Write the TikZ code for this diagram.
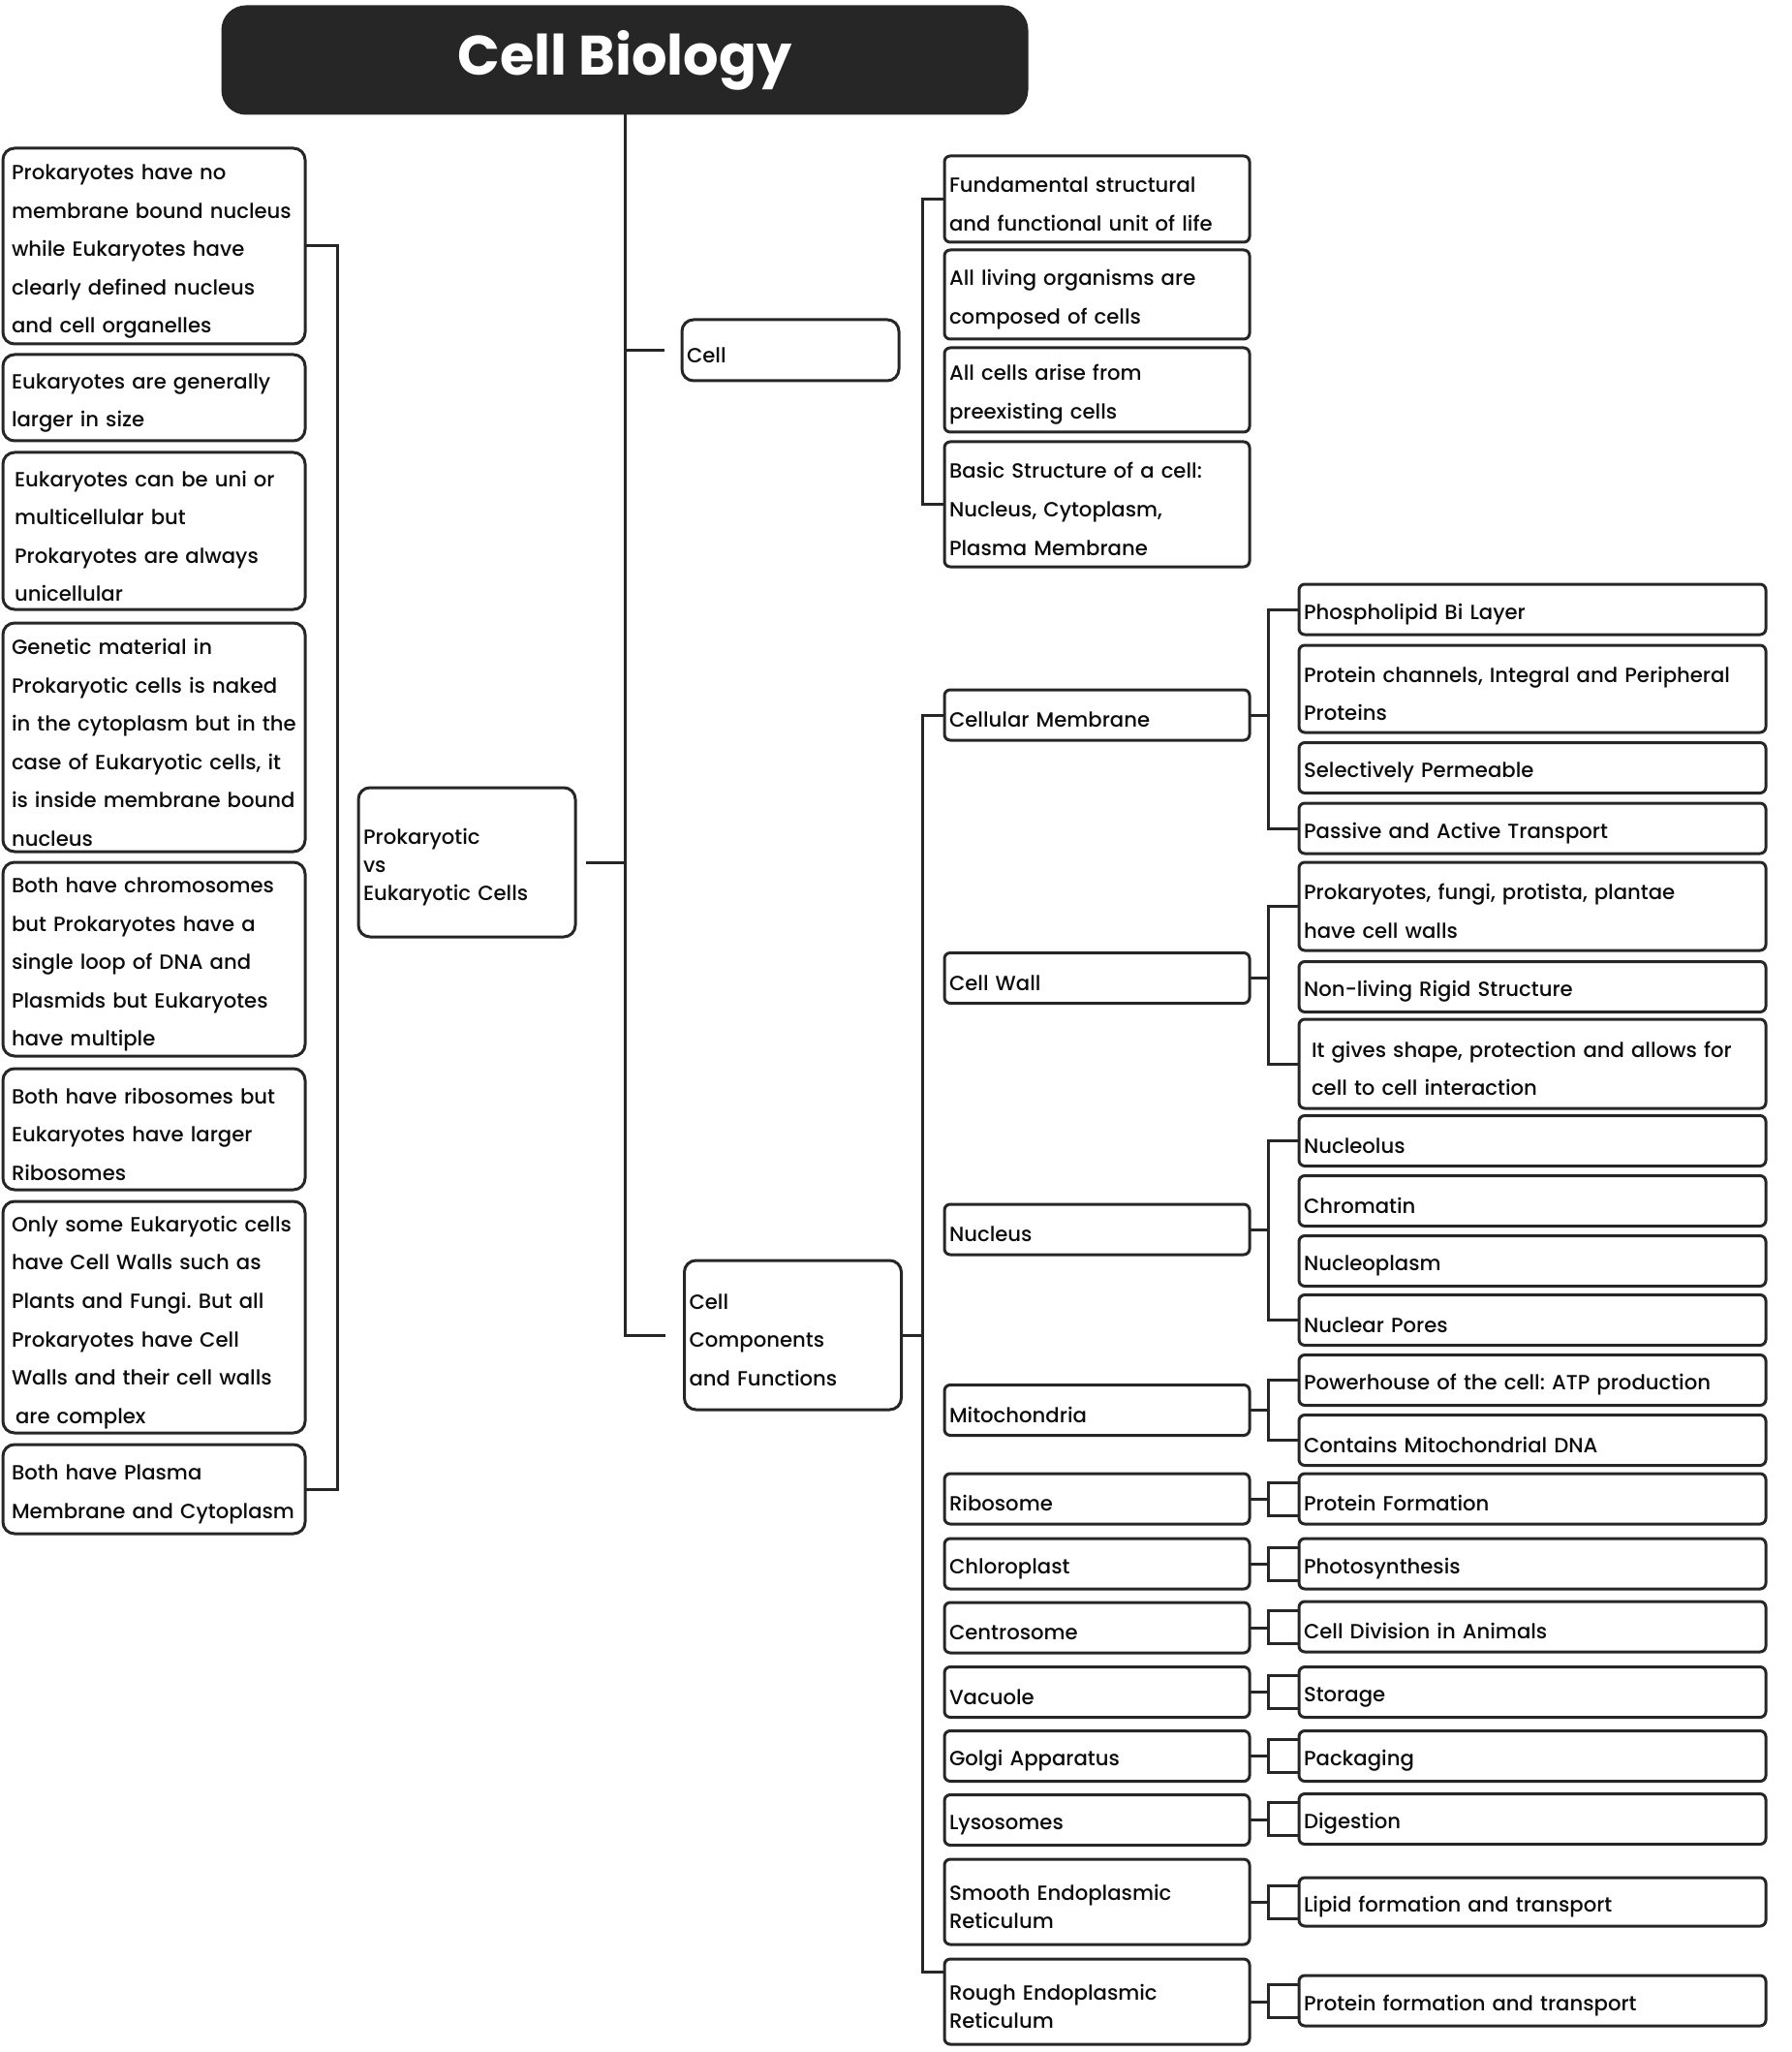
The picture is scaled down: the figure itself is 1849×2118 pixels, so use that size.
\documentclass[tikz,border=0pt]{standalone}
\usepackage{fontspec}
\setmainfont{Poppins}[UprightFont=* Medium,BoldFont=* Bold]
\usetikzlibrary{calc}
\definecolor{inkgray}{RGB}{38,38,38}
\definecolor{inkblack}{RGB}{12,12,12}
\frenchspacing

\tikzset{every picture/.style={line width=1.5pt}}
\tikzset{
  headbox/.style={fill=inkgray, draw=inkgray, rounded corners=12pt, text=white, minimum width=415pt, minimum height=55pt, font=\fontsize{28.7}{34}\selectfont\bfseries},
  sidebox/.style={draw=inkgray, rounded corners=6pt, outer sep=0pt, inner xsep=4.5pt, inner ysep=1pt, align=left, text width=147pt, text=inkblack, font=\fontsize{10.6}{19.8}\selectfont, execute at begin node={\rule{0pt}{13.5pt}}},
  hubbox/.style={draw=inkgray, rounded corners=6pt, outer sep=0pt, inner xsep=2.5pt, inner ysep=1pt, align=left, text width=107pt, text=inkblack, font=\fontsize{10.6}{19.8}\selectfont, execute at begin node={\rule{0pt}{13pt}}},
  partbox/.style={draw=inkgray, rounded corners=3pt, outer sep=0pt, inner xsep=2.5pt, inner ysep=1pt, align=left, text width=152.5pt, minimum height=26pt, text=inkblack, font=\fontsize{10.6}{19.8}\selectfont, execute at begin node={\rule{0pt}{13pt}}},
  rolebox/.style={draw=inkgray, rounded corners=3pt, outer sep=0pt, inner xsep=2.5pt, inner ysep=1pt, align=left, text width=236pt, minimum height=26pt, text=inkblack, font=\fontsize{10.6}{19.8}\selectfont, execute at begin node={\rule{0pt}{13pt}}}
}

\begin{document}
\begin{tikzpicture}[x=0.5pt,y=0.5pt,yscale=-1,xscale=1]
\useasboundingbox (0,0) rectangle (1849,2118);

%Title
\node[headbox] (title) at (645,62) {Cell Biology};

%Hubs
\node[hubbox, minimum height=31.5pt] (cell) at (816,361.5) {Cell};
\node[hubbox, minimum height=77pt, font=\fontsize{10.6}{14.5}\selectfont] (pve) at (482,890) {Prokaryotic\\vs\\Eukaryotic Cells};
\node[hubbox, minimum height=77pt] (comp) at (818.5,1378) {Cell\\Components\\and Functions};

%Left column
\node[sidebox, minimum height=101pt] (pk1) at (159,254) {Prokaryotes have no\\membrane bound nucleus\\while Eukaryotes have\\clearly defined nucleus\\and cell organelles};
\node[sidebox, minimum height=44.5pt] (pk2) at (159,410.5) {Eukaryotes are generally\\larger in size};
\node[sidebox, minimum height=81pt] (pk3) at (159,548) {\hspace*{1.5pt}Eukaryotes can be uni or\\\hspace*{1.5pt}multicellular but\\\hspace*{1.5pt}Prokaryotes are always\\\hspace*{1.5pt}unicellular};
\node[sidebox, minimum height=118pt] (pk4) at (159,761) {Genetic material in\\Prokaryotic cells is naked\\in the cytoplasm but in the\\case of Eukaryotic cells, it\\is inside membrane bound\\nucleus};
\node[sidebox, minimum height=100pt] (pk5) at (159,990) {Both have chromosomes\\but Prokaryotes have a\\single loop of DNA and\\Plasmids but Eukaryotes\\have multiple};
\node[sidebox, minimum height=62.5pt] (pk6) at (159,1165.5) {Both have ribosomes but\\Eukaryotes have larger\\Ribosomes};
\node[sidebox, minimum height=119.5pt] (pk7) at (159,1359.5) {Only some Eukaryotic cells\\have Cell Walls such as\\Plants and Fungi. But all\\Prokaryotes have Cell\\Walls and their cell walls\\\hspace*{2pt}are complex};
\node[sidebox, minimum height=46pt] (pk8) at (159,1537) {Both have Plasma\\Membrane and Cytoplasm};

%Cell facts
\node[partbox, minimum height=44.5pt] (cf1) at (1132.5,205.5) {Fundamental structural\\and functional unit of life};
\node[partbox, minimum height=46pt] (cf2) at (1132.5,304) {All living organisms are\\composed of cells};
\node[partbox, minimum height=43.5pt] (cf3) at (1132.5,402.5) {All cells arise from\\preexisting cells};
\node[partbox, minimum height=64.5pt] (cf4) at (1132.5,520.5) {Basic Structure of a cell:\\Nucleus, Cytoplasm,\\Plasma Membrane};

%Organelles
\node[partbox] (memb) at (1132.5,738) {Cellular Membrane};
\node[partbox] (wall) at (1132.5,1009.5) {Cell Wall};
\node[partbox] (nucl) at (1132.5,1269) {Nucleus};
\node[partbox] (mito) at (1132.5,1455.5) {Mitochondria};
\node[partbox] (ribo) at (1132.5,1547) {Ribosome};
\node[partbox] (chlo) at (1132.5,1614) {Chloroplast};
\node[partbox] (cent) at (1132.5,1680) {Centrosome};
\node[partbox] (vacu) at (1132.5,1746.5) {Vacuole};
\node[partbox] (golg) at (1132.5,1812.5) {Golgi Apparatus};
\node[partbox] (lyso) at (1132.5,1878.5) {Lysosomes};
\node[partbox, minimum height=44pt, font=\fontsize{10.6}{14.8}\selectfont] (ser) at (1132.5,1963) {Smooth Endoplasmic\\Reticulum};
\node[partbox, minimum height=44pt, font=\fontsize{10.6}{14.8}\selectfont] (rer) at (1132.5,2066) {Rough Endoplasmic\\Reticulum};

%Roles
\node[rolebox] (memb1) at (1582,629) {Phospholipid Bi Layer};
\node[rolebox, minimum height=45pt] (memb2) at (1582,711) {Protein channels, Integral and Peripheral\\Proteins};
\node[rolebox] (memb3) at (1582,792.5) {Selectively Permeable};
\node[rolebox] (memb4) at (1582,855) {Passive and Active Transport};
\node[rolebox, minimum height=45.5pt] (wall1) at (1582,935.5) {Prokaryotes, fungi, protista, plantae\\have cell walls};
\node[rolebox] (wall2) at (1582,1018.5) {Non-living Rigid Structure};
\node[rolebox, minimum height=46pt] (wall3) at (1582,1098) {\hspace*{4pt}It gives shape, protection and allows for\\\hspace*{4pt}cell to cell interaction};
\node[rolebox] (nucl1) at (1582,1177.5) {Nucleolus};
\node[rolebox] (nucl2) at (1582,1239.5) {Chromatin};
\node[rolebox] (nucl3) at (1582,1301.5) {Nucleoplasm};
\node[rolebox] (nucl4) at (1582,1362.5) {Nuclear Pores};
\node[rolebox] (mito1) at (1582,1424.5) {Powerhouse of the cell: ATP production};
\node[rolebox] (mito2) at (1582,1486.5) {Contains Mitochondrial DNA};
\node[rolebox] (ribo1) at (1582,1547) {Protein Formation};
\node[rolebox] (chlo1) at (1582,1614) {Photosynthesis};
\node[rolebox] (cent1) at (1582,1679) {Cell Division in Animals};
\node[rolebox] (vacu1) at (1582,1746.5) {Storage};
\node[rolebox] (golg1) at (1582,1812.5) {Packaging};
\node[rolebox] (lyso1) at (1582,1877.5) {Digestion};
\node[rolebox, minimum height=25pt] (ser1) at (1582,1963) {Lipid formation and transport};
\node[rolebox] (rer1) at (1582,2065) {Protein formation and transport};

%Trunk
\draw [inkgray] (title.south) |- ([xshift=-10pt]comp.west);
\draw [inkgray] (title.south |- cell.west) -- ([xshift=-9pt]cell.west);
\draw [inkgray] (title.south |- pve.east) -- ([xshift=5.5pt]pve.east);

%Brackets
\draw [inkgray] (pk1.east) -- ++(33,0) |- (pk8.east);
\draw [inkgray] (cf1.west) -- ++(-23,0) |- (cf4.west);
\draw [inkgray] (memb.west) -- ++(-23,0) coordinate (compbus) |- ($(rer.north west)!0.15!(rer.south west)$);
\draw [inkgray] (comp.east) -- (comp.east -| compbus);

\draw [inkgray] (memb1.west) -- ++(-32,0) coordinate (membbus) |- (memb4.west);
\draw [inkgray] (memb.east) -- (memb.east -| membbus);
\draw [inkgray] (wall1.west) -- ++(-32,0) coordinate (wallbus) |- (wall3.west);
\draw [inkgray] (wall.east) -- (wall.east -| wallbus);
\draw [inkgray] (nucl1.west) -- ++(-32,0) coordinate (nuclbus) |- (nucl4.west);
\draw [inkgray] (nucl.east) -- (nucl.east -| nuclbus);
\draw [inkgray] (mito1.west) -- ++(-32,0) coordinate (mitobus) |- (mito2.west);
\draw [inkgray] (mito.east) -- (mito.east -| mitobus);

%Single brackets
\draw [inkgray] (ribo.east) -- ++(19,0) ($(ribo1.west)+(0,-17)$) -- ++(-32,0) -- ++(0,34) -- ++(32,0);
\draw [inkgray] (chlo.east) -- ++(19,0) ($(chlo1.west)+(0,-17)$) -- ++(-32,0) -- ++(0,34) -- ++(32,0);
\draw [inkgray] (cent.east) -- ++(19,0) ($(cent1.west)+(0,-17)$) -- ++(-32,0) -- ++(0,34) -- ++(32,0);
\draw [inkgray] (vacu.east) -- ++(19,0) ($(vacu1.west)+(0,-17)$) -- ++(-32,0) -- ++(0,34) -- ++(32,0);
\draw [inkgray] (golg.east) -- ++(19,0) ($(golg1.west)+(0,-17)$) -- ++(-32,0) -- ++(0,34) -- ++(32,0);
\draw [inkgray] (lyso.east) -- ++(19,0) ($(lyso1.west)+(0,-17)$) -- ++(-32,0) -- ++(0,34) -- ++(32,0);
\draw [inkgray] (ser.east) -- ++(19,0) ($(ser1.west)+(0,-17)$) -- ++(-32,0) -- ++(0,34) -- ++(32,0);
\draw [inkgray] (rer.east) -- ++(19,0) ($(rer1.west)+(0,-17)$) -- ++(-32,0) -- ++(0,34) -- ++(32,0);

\end{tikzpicture}
\end{document}
